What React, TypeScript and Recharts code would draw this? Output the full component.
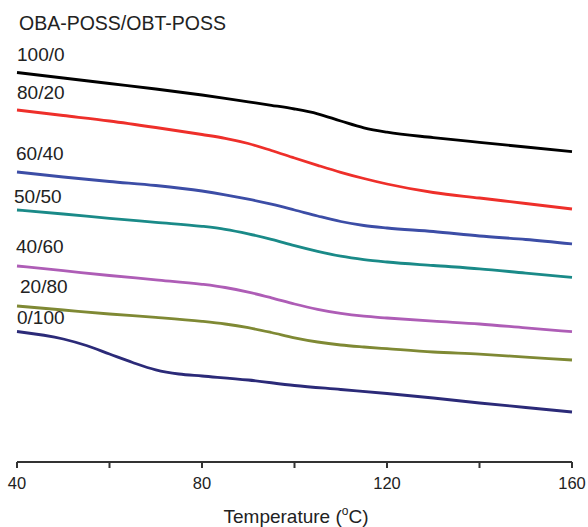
import { LineChart, Line, XAxis, YAxis, Customized } from 'recharts';

// temperature (°C) grid used for the six blends
const tempMain = [40, 50, 60, 70, 80, 85, 90, 95, 100, 105, 110, 115, 120, 130, 140, 150, 160];
// pure OBT-POSS trace was read with a finer grid around its step
const tempNavy = [40, 50, 55, 60, 65, 70, 75, 80, 90, 100, 110, 120, 130, 140, 150, 160];

// heat flow, arbitrary units (curves are vertically offset)
const flow100_0 = [38.95, 38.4, 37.85, 37.3, 36.7, 36.37, 36.02, 35.67, 35.3, 34.82, 34.1, 33.42, 32.98, 32.44, 31.96, 31.5, 31.03];
const flow80_20 = [35.2, 34.65, 34.1, 33.45, 32.75, 32.37, 31.85, 31.15, 30.4, 29.67, 28.97, 28.35, 27.8, 26.95, 26.4, 25.85, 25.3];
const flow60_40 = [29.0, 28.5, 28.05, 27.65, 27.1, 26.72, 26.28, 25.78, 25.2, 24.6, 24.05, 23.65, 23.4, 23.05, 22.6, 22.25, 21.8];
const flow50_50 = [25.2, 24.8, 24.37, 23.97, 23.57, 23.27, 22.82, 22.27, 21.63, 21.06, 20.58, 20.24, 20.0, 19.65, 19.32, 18.89, 18.47];
const flow40_60 = [19.6, 19.13, 18.65, 18.22, 17.77, 17.45, 16.99, 16.42, 15.8, 15.27, 14.86, 14.58, 14.4, 14.08, 13.8, 13.41, 13.03];
const flow20_80 = [15.6, 15.2, 14.8, 14.47, 14.07, 13.8, 13.43, 12.95, 12.42, 12.0, 11.7, 11.5, 11.33, 11.0, 10.78, 10.49, 10.2];
const flow0_100 = [13.05, 12.3, 11.65, 10.8, 9.95, 9.22, 8.8, 8.6, 8.2, 7.65, 7.25, 6.85, 6.4, 5.9, 5.45, 5.0];

const xTicks = [40, 60, 80, 100, 120, 140, 160];
const labelledTicks = [40, 80, 120, 160];

const toPoints = (temps: number[], vals: number[]) => temps.map((t, i) => ({ t, v: vals[i] }));

const series = [
  { name: '100/0', color: '#000000', data: toPoints(tempMain, flow100_0) },
  { name: '80/20', color: '#ee2f2a', data: toPoints(tempMain, flow80_20) },
  { name: '60/40', color: '#3c4da6', data: toPoints(tempMain, flow60_40) },
  { name: '50/50', color: '#1a8a88', data: toPoints(tempMain, flow50_50) },
  { name: '40/60', color: '#ae5db6', data: toPoints(tempMain, flow40_60) },
  { name: '20/80', color: '#7f8934', data: toPoints(tempMain, flow20_80) },
  { name: '0/100', color: '#2b2a78', data: toPoints(tempNavy, flow0_100) },
];

const FONT = '"Liberation Sans", Arial, sans-serif';

// curve labels sit just above the left end of each trace
const labelSpots = [
  { x: 17, y: 61 },
  { x: 17, y: 99 },
  { x: 16, y: 160 },
  { x: 14, y: 203 },
  { x: 16, y: 253 },
  { x: 20, y: 293 },
  { x: 17, y: 324 },
];

const Annotations = () => (
  <g fontFamily={FONT} fill="#222">
    <text x={19} y={30} fontSize={19.5}>
      OBA-POSS/OBT-POSS
    </text>
    {series.map((s, i) => (
      <text key={s.name} x={labelSpots[i].x} y={labelSpots[i].y} fontSize={19}>
        {s.name}
      </text>
    ))}
    <text x={296} y={523} fontSize={19} textAnchor="middle">
      Temperature (
      <tspan fontSize={12} dy={-8}>o</tspan>
      <tspan dy={8}>C)</tspan>
    </text>
  </g>
);

export default function App() {
  return (
    <div style={{ position: 'absolute', left: 0, top: 0, width: 588, height: 527, background: '#fff' }}>
      <LineChart width={588} height={527} margin={{ top: 12, right: 16, left: 17, bottom: 0 }}>
        <XAxis
          type="number"
          dataKey="t"
          domain={[40, 160]}
          ticks={xTicks}
          interval={0}
          height={65}
          tickSize={6}
          tickMargin={9}
          axisLine={{ stroke: '#333', strokeWidth: 2 }}
          tickLine={{ stroke: '#333', strokeWidth: 2 }}
          tick={{ fill: '#222', fontSize: 16.5, fontFamily: FONT }}
          tickFormatter={(v: number) => (labelledTicks.includes(v) ? String(v) : '')}
          allowDuplicatedCategory={false}
        />
        <YAxis hide type="number" domain={[0, 45]} />
        {series.map((s) => (
          <Line
            key={s.name}
            data={s.data}
            dataKey="v"
            type="monotone"
            stroke={s.color}
            strokeWidth={2.8}
            dot={false}
            activeDot={false}
            isAnimationActive={false}
          />
        ))}
        <Customized component={<Annotations />} />
      </LineChart>
    </div>
  );
}
